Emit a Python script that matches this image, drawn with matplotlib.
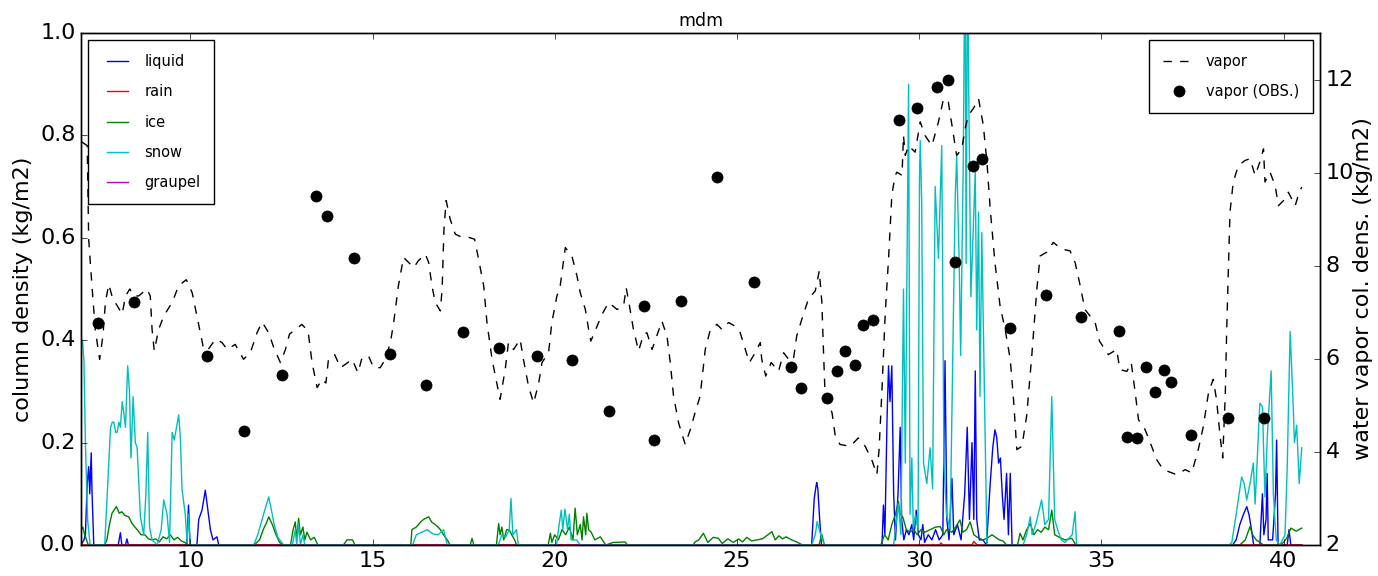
import matplotlib
matplotlib.use("Agg")
import matplotlib.pyplot as plt

# Column-integrated hydrometeors (kg/m2) vs. time (h), as (t, value) pairs.
liquid_pts = [
    (7.00, 0.0), (7.08, 0.01), (7.12, 0.02), (7.17, 0.12), (7.21, 0.153), (7.24, 0.10),
    (7.28, 0.18), (7.30, 0.107), (7.35, 0.0),
    (8.02, 0.0), (8.08, 0.024), (8.12, 0.0), (8.22, 0.0), (8.26, 0.012), (8.30, 0.0),
    (9.90, 0.0), (9.95, 0.078), (9.99, 0.0),
    (10.18, 0.0), (10.23, 0.05), (10.32, 0.068), (10.41, 0.107), (10.46, 0.08), (10.55, 0.03),
    (10.62, 0.01), (10.73, 0.016), (10.78, 0.0),
    (27.05, 0.0), (27.12, 0.09), (27.17, 0.115), (27.19, 0.122), (27.22, 0.11), (27.27, 0.05),
    (27.32, 0.0),
    (28.98, 0.0), (29.02, 0.078), (29.06, 0.02), (29.12, 0.25), (29.16, 0.35), (29.20, 0.28),
    (29.25, 0.35), (29.30, 0.10), (29.35, 0.01), (29.42, 0.10), (29.48, 0.23), (29.52, 0.05),
    (29.58, 0.01), (29.65, 0.03), (29.72, 0.02), (29.80, 0.04), (29.85, 0.01), (29.92, 0.068),
    (29.98, 0.02), (30.05, 0.01), (30.10, 0.04), (30.15, 0.005), (30.25, 0.02), (30.35, 0.01),
    (30.45, 0.03), (30.55, 0.01), (30.65, 0.02), (30.71, 0.36), (30.76, 0.05), (30.82, 0.01),
    (30.90, 0.13), (30.95, 0.02), (31.05, 0.04), (31.15, 0.01), (31.25, 0.10), (31.32, 0.23),
    (31.38, 0.05), (31.45, 0.20), (31.50, 0.05), (31.54, 0.34), (31.58, 0.05), (31.65, 0.01),
    (31.75, 0.01), (31.85, 0.0), (31.95, 0.12), (32.02, 0.19), (32.08, 0.225), (32.13, 0.21),
    (32.18, 0.16), (32.23, 0.17), (32.28, 0.10), (32.33, 0.05), (32.40, 0.14), (32.45, 0.02),
    (32.50, 0.14), (32.55, 0.0),
    (38.60, 0.0), (38.70, 0.01), (38.80, 0.04), (38.90, 0.06), (38.99, 0.075), (39.05, 0.06),
    (39.12, 0.03), (39.18, 0.0), (39.35, 0.0), (39.42, 0.10), (39.46, 0.02), (39.52, 0.05),
    (39.55, 0.14), (39.58, 0.01), (39.70, 0.01), (39.78, 0.10), (39.81, 0.205), (39.85, 0.0),
    (40.10, 0.0), (40.15, 0.03), (40.20, 0.0), (40.50, 0.0),
]

rain_pts = [
    (7.00, 0.0), (30.55, 0.0), (30.60, 0.004), (30.65, 0.0), (31.45, 0.0), (31.50, 0.007),
    (31.55, 0.003), (31.60, 0.0), (40.50, 0.0),
]

ice_pts = [
    (7.00, 0.03), (7.05, 0.035), (7.10, 0.02), (7.20, 0.0),
    (7.65, 0.0), (7.71, 0.01), (7.78, 0.04), (7.85, 0.062), (7.97, 0.075), (8.05, 0.062),
    (8.12, 0.065), (8.20, 0.058), (8.31, 0.055), (8.40, 0.042), (8.54, 0.03), (8.65, 0.02),
    (8.75, 0.02), (8.85, 0.012), (8.95, 0.01), (9.05, 0.012), (9.15, 0.006), (9.25, 0.016),
    (9.35, 0.012), (9.45, 0.02), (9.55, 0.01), (9.65, 0.015), (9.75, 0.008), (9.85, 0.005),
    (9.95, 0.0),
    (11.75, 0.0), (11.90, 0.01), (12.00, 0.03), (12.10, 0.045), (12.15, 0.055), (12.25, 0.04),
    (12.35, 0.02), (12.45, 0.005), (12.55, 0.0),
    (12.75, 0.0), (12.82, 0.03), (12.88, 0.045), (12.92, 0.01), (12.97, 0.052), (13.02, 0.02),
    (13.09, 0.035), (13.14, 0.01), (13.20, 0.025), (13.30, 0.01), (13.40, 0.015), (13.50, 0.0),
    (14.20, 0.0), (14.30, 0.01), (14.45, 0.01), (14.52, 0.0),
    (16.05, 0.0), (16.08, 0.03), (16.20, 0.035), (16.32, 0.045), (16.40, 0.05), (16.54, 0.055),
    (16.62, 0.045), (16.72, 0.04), (16.80, 0.035), (16.86, 0.03), (16.95, 0.02), (17.05, 0.01),
    (17.13, 0.0),
    (17.68, 0.0), (17.73, 0.013), (17.78, 0.0),
    (18.40, 0.0), (18.46, 0.042), (18.50, 0.02), (18.55, 0.035), (18.60, 0.01), (18.68, 0.03),
    (18.75, 0.03), (18.82, 0.02), (18.90, 0.01), (18.95, 0.0),
    (19.82, 0.0), (19.88, 0.023), (19.92, 0.005), (20.00, 0.02), (20.10, 0.01), (20.20, 0.03),
    (20.30, 0.02), (20.40, 0.035), (20.50, 0.01), (20.56, 0.072), (20.62, 0.02), (20.70, 0.04),
    (20.75, 0.01), (20.79, 0.055), (20.85, 0.02), (20.88, 0.062), (20.93, 0.03), (21.00, 0.025),
    (21.10, 0.01), (21.25, 0.016), (21.40, 0.0), (21.60, 0.005), (21.93, 0.006), (22.00, 0.0),
    (23.80, 0.0), (23.85, 0.006), (23.95, 0.01), (24.08, 0.023), (24.20, 0.005), (24.35, 0.015),
    (24.49, 0.013), (24.60, 0.003), (24.75, 0.012), (24.90, 0.005), (25.05, 0.012), (25.15, 0.006),
    (25.27, 0.015), (25.40, 0.008), (25.55, 0.01), (25.70, 0.012), (25.85, 0.02), (25.96, 0.026),
    (26.05, 0.01), (26.15, 0.018), (26.25, 0.012), (26.35, 0.016), (26.50, 0.01), (26.64, 0.006),
    (26.80, 0.0),
    (27.25, 0.0), (27.33, 0.02), (27.40, 0.0),
    (28.95, 0.0), (29.05, 0.02), (29.15, 0.01), (29.25, 0.04), (29.35, 0.06), (29.43, 0.085),
    (29.48, 0.06), (29.55, 0.055), (29.65, 0.03), (29.75, 0.025), (29.85, 0.03), (29.95, 0.02),
    (30.05, 0.03), (30.15, 0.025), (30.30, 0.03), (30.45, 0.035), (30.58, 0.036), (30.68, 0.02),
    (30.75, 0.03), (30.90, 0.025), (31.00, 0.035), (31.12, 0.049), (31.20, 0.025), (31.30, 0.03),
    (31.40, 0.045), (31.50, 0.02), (31.60, 0.015), (31.75, 0.01), (31.86, 0.013), (32.00, 0.02),
    (32.10, 0.015), (32.20, 0.01), (32.30, 0.008), (32.40, 0.0),
    (32.70, 0.0), (32.77, 0.023), (32.85, 0.01), (32.95, 0.03), (33.05, 0.042), (33.15, 0.02),
    (33.25, 0.03), (33.35, 0.025), (33.45, 0.035), (33.55, 0.03), (33.64, 0.068), (33.72, 0.02),
    (33.85, 0.015), (34.00, 0.01), (34.19, 0.013), (34.30, 0.0),
    (38.80, 0.0), (38.95, 0.01), (39.05, 0.03), (39.08, 0.036), (39.15, 0.02), (39.25, 0.01),
    (39.35, 0.005), (39.45, 0.0), (39.90, 0.0), (40.00, 0.005), (40.10, 0.015), (40.20, 0.033),
    (40.27, 0.03), (40.35, 0.027), (40.42, 0.03), (40.50, 0.033),
]

snow_pts = [
    (7.00, 0.38), (7.04, 0.40), (7.08, 0.36), (7.12, 0.20), (7.18, 0.05), (7.25, 0.0),
    (7.65, 0.0), (7.72, 0.10), (7.81, 0.23), (7.86, 0.24), (7.90, 0.24), (7.95, 0.22),
    (7.99, 0.22), (8.04, 0.24), (8.08, 0.23), (8.13, 0.28), (8.17, 0.26), (8.22, 0.23),
    (8.28, 0.35), (8.33, 0.30), (8.37, 0.17), (8.43, 0.29), (8.49, 0.20), (8.54, 0.19),
    (8.63, 0.055), (8.72, 0.02), (8.78, 0.10), (8.83, 0.22), (8.88, 0.035), (8.95, 0.01),
    (9.09, 0.0), (9.20, 0.03), (9.27, 0.088), (9.36, 0.06), (9.43, 0.005), (9.50, 0.22),
    (9.56, 0.205), (9.62, 0.23), (9.68, 0.254), (9.73, 0.205), (9.77, 0.11), (9.86, 0.06),
    (9.91, 0.005), (9.95, 0.06), (10.00, 0.0),
    (11.74, 0.0), (11.85, 0.02), (11.95, 0.045), (12.05, 0.07), (12.15, 0.094), (12.22, 0.07),
    (12.30, 0.04), (12.40, 0.015), (12.56, 0.0),
    (12.80, 0.0), (12.88, 0.03), (12.92, 0.0), (12.97, 0.042), (13.02, 0.0), (13.09, 0.02),
    (13.14, 0.0),
    (16.10, 0.0), (16.20, 0.02), (16.35, 0.025), (16.50, 0.03), (16.65, 0.022), (16.80, 0.02),
    (16.95, 0.03), (17.05, 0.0),
    (18.45, 0.0), (18.55, 0.02), (18.65, 0.015), (18.75, 0.03), (18.80, 0.091), (18.85, 0.02),
    (18.95, 0.03), (19.00, 0.0),
    (20.05, 0.0), (20.12, 0.04), (20.18, 0.068), (20.22, 0.03), (20.28, 0.07), (20.35, 0.03),
    (20.40, 0.06), (20.45, 0.01), (20.60, 0.01), (20.70, 0.0),
    (27.05, 0.0), (27.15, 0.02), (27.20, 0.046), (27.30, 0.02), (27.40, 0.0),
    (29.30, 0.0), (29.43, 0.08), (29.50, 0.02), (29.57, 0.50), (29.62, 0.16), (29.71, 0.90),
    (29.75, 0.06), (29.80, 0.17), (29.84, 0.03), (29.90, 0.06), (29.97, 0.03), (30.01, 0.72),
    (30.03, 0.79), (30.07, 0.67), (30.12, 0.16), (30.21, 0.12), (30.30, 0.19), (30.37, 0.11),
    (30.44, 0.70), (30.53, 0.56), (30.62, 0.78), (30.68, 0.16), (30.75, 0.06), (30.85, 0.03),
    (30.99, 0.68), (31.03, 0.76), (31.10, 0.55), (31.14, 0.37), (31.21, 0.745), (31.26, 1.20),
    (31.29, 0.55), (31.33, 1.20), (31.36, 0.89), (31.42, 0.485), (31.54, 0.73), (31.58, 0.42),
    (31.63, 0.65), (31.67, 0.29), (31.72, 0.61), (31.81, 0.225), (31.86, 0.0),
    (32.85, 0.0), (32.95, 0.02), (33.05, 0.055), (33.10, 0.02), (33.20, 0.04), (33.30, 0.07),
    (33.36, 0.088), (33.45, 0.04), (33.55, 0.05), (33.64, 0.29), (33.72, 0.05), (33.80, 0.03),
    (33.90, 0.01), (34.00, 0.005), (34.20, 0.02), (34.28, 0.065), (34.32, 0.0),
    (38.50, 0.0), (38.58, 0.005), (38.70, 0.06), (38.85, 0.133), (38.92, 0.12), (38.99, 0.088),
    (39.08, 0.12), (39.17, 0.16), (39.22, 0.08), (39.30, 0.20), (39.35, 0.277), (39.42, 0.27),
    (39.49, 0.094), (39.56, 0.22), (39.66, 0.34), (39.72, 0.10), (39.80, 0.01), (39.90, 0.0),
    (40.04, 0.02), (40.10, 0.15), (40.18, 0.417), (40.25, 0.30), (40.30, 0.20), (40.36, 0.234),
    (40.43, 0.12), (40.50, 0.19),
]

graupel_pts = [(7.00, 0.0), (40.50, 0.0)]

# Water vapour column (kg/m2): model trace and hourly observations.
vapor_pts = [
    (7.02, 10.66), (7.17, 10.58), (7.21, 8.57), (7.30, 7.57), (7.39, 6.63), (7.51, 5.99),
    (7.60, 6.49), (7.67, 7.22), (7.76, 7.60), (7.85, 7.35), (7.94, 7.21), (8.13, 6.96),
    (8.22, 7.35), (8.34, 7.50), (8.44, 7.35), (8.58, 7.35), (8.81, 7.50), (8.90, 7.35),
    (8.95, 6.63), (9.01, 6.17), (9.13, 6.63), (9.27, 6.92), (9.50, 7.21), (9.68, 7.57),
    (9.89, 7.70), (10.05, 7.42), (10.18, 6.92), (10.35, 6.27), (10.46, 6.17), (10.69, 6.42),
    (10.87, 6.35), (11.01, 6.20), (11.23, 6.31), (11.46, 5.99), (11.65, 6.14), (11.83, 6.56),
    (11.97, 6.79), (12.15, 6.56), (12.29, 6.24), (12.47, 5.92), (12.61, 6.20), (12.72, 6.53),
    (12.88, 6.63), (13.06, 6.74), (13.23, 6.60), (13.34, 5.92), (13.48, 5.38), (13.61, 5.56),
    (13.72, 5.48), (13.79, 5.99), (13.96, 6.09), (14.12, 5.81), (14.25, 5.88), (14.44, 5.99),
    (14.60, 5.70), (14.71, 6.02), (14.89, 6.06), (15.03, 5.81), (15.21, 5.81), (15.35, 5.99),
    (15.49, 6.35), (15.58, 6.78), (15.71, 7.57), (15.85, 8.18), (15.99, 8.07), (16.13, 7.96),
    (16.26, 8.11), (16.45, 8.25), (16.54, 8.07), (16.63, 7.57), (16.72, 7.21), (16.86, 7.03),
    (16.91, 7.50), (16.96, 8.79), (17.02, 9.40), (17.13, 9.00), (17.27, 8.68), (17.45, 8.61),
    (17.64, 8.61), (17.80, 8.57), (17.91, 8.14), (18.05, 7.57), (18.14, 6.78), (18.28, 5.99),
    (18.37, 5.63), (18.50, 5.13), (18.64, 5.77), (18.73, 6.35), (18.87, 6.20), (19.05, 6.42),
    (19.14, 5.99), (19.28, 5.41), (19.42, 5.05), (19.56, 5.48), (19.65, 5.92), (19.83, 6.13),
    (19.92, 6.78), (20.06, 7.35), (20.15, 7.57), (20.29, 8.39), (20.47, 8.21), (20.61, 7.78),
    (20.70, 7.42), (20.84, 7.06), (20.93, 6.63), (20.99, 6.38), (21.16, 6.70), (21.30, 6.96),
    (21.48, 7.21), (21.71, 7.06), (21.89, 7.14), (21.96, 7.53), (22.05, 7.14), (22.16, 6.63),
    (22.30, 6.17), (22.44, 6.53), (22.53, 6.56), (22.67, 6.20), (22.80, 6.49), (22.94, 6.81),
    (23.08, 6.49), (23.17, 5.92), (23.26, 5.20), (23.40, 4.62), (23.58, 4.16), (23.72, 4.48),
    (23.85, 4.84), (23.99, 5.20), (24.13, 6.20), (24.27, 6.63), (24.45, 6.74), (24.59, 6.63),
    (24.77, 6.78), (24.95, 6.70), (25.09, 6.56), (25.23, 6.20), (25.34, 5.92), (25.50, 6.13),
    (25.64, 6.35), (25.68, 5.99), (25.79, 5.63), (25.94, 5.92), (26.14, 5.73), (26.28, 6.13),
    (26.46, 5.95), (26.55, 5.99), (26.64, 6.49), (26.78, 6.85), (26.96, 7.28), (27.15, 7.46),
    (27.26, 7.89), (27.33, 7.21), (27.37, 6.27), (27.42, 5.20), (27.61, 4.84), (27.70, 4.33),
    (27.83, 4.16), (28.11, 4.12), (28.33, 4.30), (28.52, 4.12), (28.70, 3.83), (28.84, 3.51),
    (28.90, 4.05), (28.98, 5.34), (29.07, 6.99), (29.16, 8.14), (29.25, 9.51), (29.34, 9.94),
    (29.39, 10.01), (29.53, 9.94), (29.57, 10.80), (29.62, 10.37), (29.71, 10.58), (29.89, 10.44),
    (30.03, 11.09), (30.16, 10.80), (30.35, 10.58), (30.53, 11.09), (30.67, 11.59), (30.80, 11.52),
    (30.90, 11.02), (31.03, 10.37), (31.17, 10.51), (31.26, 10.94), (31.35, 11.23), (31.49, 11.38),
    (31.63, 11.59), (31.76, 11.02), (31.86, 10.23), (31.95, 9.22), (32.08, 8.07), (32.22, 7.14),
    (32.36, 6.63), (32.50, 5.99), (32.59, 5.13), (32.68, 4.05), (32.82, 4.12), (32.95, 4.77),
    (33.09, 6.06), (33.23, 7.50), (33.32, 8.21), (33.50, 8.29), (33.68, 8.50), (33.91, 8.36),
    (34.14, 8.32), (34.28, 8.07), (34.42, 7.57), (34.55, 7.06), (34.69, 6.92), (34.83, 6.78),
    (34.95, 6.38), (35.19, 6.09), (35.42, 6.20), (35.51, 5.77), (35.70, 5.73), (35.82, 5.92),
    (35.93, 5.27), (36.02, 4.69), (36.20, 4.48), (36.38, 4.12), (36.52, 3.83), (36.70, 3.62),
    (37.07, 3.51), (37.30, 3.62), (37.48, 3.55), (37.66, 4.05), (37.80, 4.55), (37.94, 5.27),
    (38.07, 5.56), (38.16, 5.13), (38.26, 4.33), (38.33, 3.87), (38.40, 5.20), (38.44, 6.63),
    (38.49, 8.07), (38.53, 9.15), (38.62, 9.80), (38.76, 10.15), (38.94, 10.26), (39.08, 10.30),
    (39.22, 9.94), (39.35, 10.23), (39.45, 10.51), (39.49, 9.80), (39.63, 10.01), (39.77, 9.72),
    (39.86, 9.29), (40.00, 9.40), (40.13, 9.58), (40.32, 9.29), (40.43, 9.58), (40.50, 9.69),
]

obs_t = [7.46, 8.46, 10.47, 11.46, 12.52, 13.46, 13.75, 14.49, 15.49, 16.47, 17.47, 18.47,
         19.52, 20.48, 21.48, 22.46, 22.72, 23.46, 24.46, 25.48, 26.48, 26.77, 27.48, 27.74,
         27.97, 28.24, 28.47, 28.73, 29.46, 29.94, 30.49, 30.79, 30.99, 31.47, 31.72, 32.48,
         33.48, 34.45, 35.49, 35.71, 35.99, 36.22, 36.47, 36.71, 36.92, 37.47, 38.48, 39.47]
obs_vapor = [6.78, 7.22, 6.07, 4.46, 5.65, 9.49, 9.07, 8.16, 6.11, 5.44, 6.57, 6.24,
             6.06, 5.97, 4.87, 7.14, 4.25, 7.25, 9.90, 7.65, 5.83, 5.38, 5.15, 5.74,
             6.17, 5.87, 6.73, 6.84, 11.14, 11.38, 11.83, 12.00, 8.08, 10.15, 10.30, 6.66,
             7.37, 6.90, 6.59, 4.31, 4.29, 5.83, 5.28, 5.75, 5.51, 4.36, 4.73, 4.73]

hydrometeors = [
    ("liquid", liquid_pts, "b"),
    ("rain", rain_pts, "r"),
    ("ice", ice_pts, "g"),
    ("snow", snow_pts, "c"),
    ("graupel", graupel_pts, "m"),
]

plt.style.use("classic")
plt.rcParams.update({
    "font.family": "DejaVu Sans",
    "figure.facecolor": "white",
    "savefig.facecolor": "white",
})

fig = plt.figure(figsize=(13.78, 5.76), dpi=100)
ax = fig.add_axes([0.0588, 0.0538, 0.8991, 0.8889])

for name, pts, color in hydrometeors:
    t, q = zip(*pts)
    ax.plot(t, q, color=color, lw=1.0, label=name)

ax.set_xlim(7, 41)
ax.set_ylim(0, 1.0)
ax.set_xticks([10, 15, 20, 25, 30, 35, 40])
ax.set_yticks([0.0, 0.2, 0.4, 0.6, 0.8, 1.0])
ax.tick_params(labelsize=16)
ax.set_ylabel("column density (kg/m2)", fontsize=16)
ax.set_title("mdm", fontsize=12.5)
ax.legend(loc="upper left", fontsize=10.5, labelspacing=1.05, borderpad=0.95,
          handlelength=2.1, handletextpad=0.8, fancybox=False)

ax2 = ax.twinx()
vt, vq = zip(*vapor_pts)
ax2.plot(vt, vq, "k--", lw=1.0, label="vapor")
ax2.plot(obs_t, obs_vapor, "ko", ms=8, label="vapor (OBS.)")
ax2.set_xlim(7, 41)
ax2.set_ylim(2, 13)
ax2.set_yticks([2, 4, 6, 8, 10, 12])
ax2.tick_params(labelsize=16)
ax2.set_ylabel("water vapor col. dens. (kg/m2)", fontsize=16, labelpad=-1)
ax2.legend(loc="upper right", numpoints=1, fontsize=10.5, labelspacing=1.05,
           borderpad=0.95, handlelength=2.1, handletextpad=0.8, fancybox=False)

fig.savefig("out.png", dpi=100)
